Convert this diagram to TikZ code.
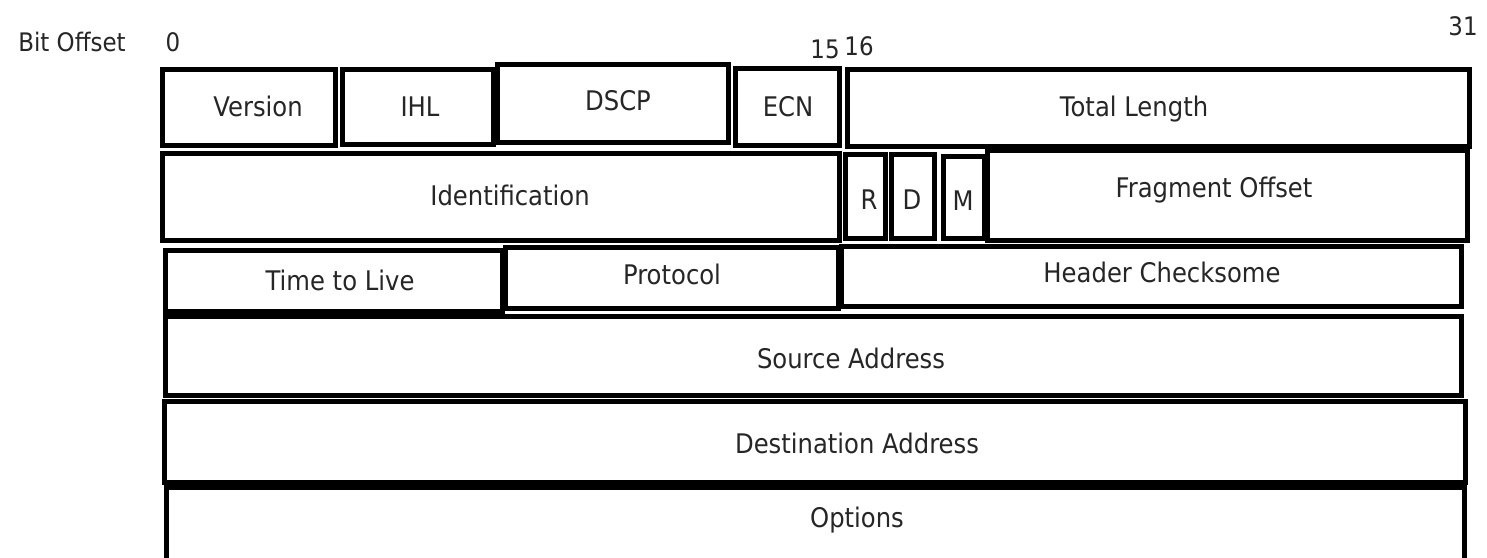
\documentclass[tikz,border=0pt]{standalone}
\usepackage{fontspec}
\setmainfont{DejaVu Sans}[FakeStretch=0.9]
\begin{document}
\begin{tikzpicture}[x=1pt,y=-1pt,
  fbox/.style={draw=black, line width=5.5pt, inner sep=0pt, outer sep=0pt},
  ftext/.style={text=black!85, inner sep=0pt, font=\fontsize{27}{30}\selectfont},
  ntext/.style={text=black!85, inner sep=0pt, font=\fontsize{25.5}{29}\selectfont}]
\useasboundingbox[fill=white] (0,0) rectangle (1487,557);
% row 1
\node[fbox, minimum width=173, minimum height=76] (ver) at (249,107.5) {};
\node[fbox, minimum width=151, minimum height=75] (ihl) at (418,107) {};
\node[fbox, minimum width=231, minimum height=78] (dscp) at (613,103.5) {};
\node[fbox, minimum width=104, minimum height=77] (ecn) at (787.5,107) {};
\node[fbox, minimum width=622, minimum height=77] (tot) at (1158.5,108) {};
% row 2
\node[fbox, minimum width=677, minimum height=87] (ident) at (501,197) {};
\node[fbox, minimum width=40, minimum height=84] (rf) at (865.5,196.5) {};
\node[fbox, minimum width=43, minimum height=84] (df) at (913,196.5) {};
\node[fbox, minimum width=41, minimum height=82] (mf) at (964,197.5) {};
\node[fbox, minimum width=480, minimum height=90] (frag) at (1227.5,195.5) {};
% row 3
\node[fbox, minimum width=337, minimum height=61] (ttl) at (334,281) {};
\node[fbox, minimum width=333, minimum height=61] (proto) at (672,278) {};
\node[fbox, minimum width=620, minimum height=60] (hcs) at (1151.5,276.5) {};
% rows 4-6
\node[fbox, minimum width=1296, minimum height=79] (src) at (813.5,356) {};
\node[fbox, minimum width=1301, minimum height=81] (dst) at (815,442) {};
\node[fbox, minimum width=1298, minimum height=84] (opt) at (815.5,529) {};
% labels
\node[ntext] (lbit) at (72,42) {Bit Offset};
\node[ntext] (l0) at (173,42) {0};
\node[ntext] (l15) at (825,49) {15};
\node[ntext] (l16) at (859,46) {16};
\node[ntext] (l31) at (1463,26) {31};
\node[ftext] (tver) at (258,106) {Version};
\node[ftext] (tihl) at (420,107) {IHL};
\node[ftext] (tdscp) at (618,101) {DSCP};
\node[ftext] (tecn) at (788,107) {ECN};
\node[ftext] (ttot) at (1134,109) {Total Length};
\node[ftext] (tident) at (510,195) {Identification};
\node[ftext] (tr) at (869,200) {R};
\node[ftext] (td) at (912,200) {D};
\node[ftext] (tm) at (963,201) {M};
\node[ftext] (tfrag) at (1214,190) {Fragment Offset};
\node[ftext] (tttl) at (340,280) {Time to Live};
\node[ftext] (tproto) at (672,274) {Protocol};
\node[ftext] (thcs) at (1162,272) {Header Checksome};
\node[ftext] (tsrc) at (851,358) {Source Address};
\node[ftext] (tdst) at (857,443) {Destination Address};
\node[ftext] (topt) at (857,520) {Options};
\end{tikzpicture}
\end{document}
